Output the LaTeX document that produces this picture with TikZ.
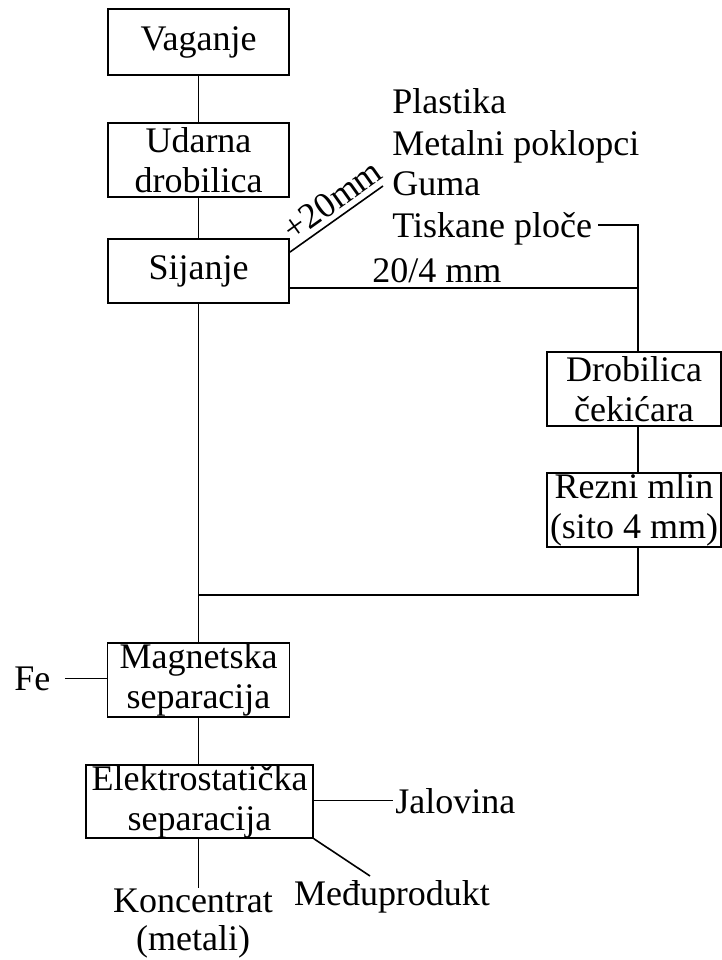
\documentclass[tikz,border=0pt]{standalone}
\usepackage{fontspec}
\setmainfont{Liberation Serif}
\begin{document}
\begin{tikzpicture}[x=0.5pt,y=-0.5pt,
  font=\fontsize{18}{20}\selectfont,
  box/.style={draw, line width=0.9pt, inner sep=0pt, align=center},
  lbl/.style={inner sep=0pt},
  conn/.style={line width=0.8pt}]
\useasboundingbox (0,0) rectangle (722,960);
% boxes
\node[box, minimum width=90.5pt, minimum height=33pt] (vag) at (198.5,42) {Vaganje};
\node[box, minimum width=90.5pt, minimum height=37pt] (udr) at (198.5,160) {Udarna\\drobilica};
\node[box, minimum width=90.5pt, minimum height=32pt] (sij) at (198.5,271) {Sijanje};
\node[box, minimum width=87pt, minimum height=37pt] (dro) at (634,389) {Drobilica\\čekićara};
\node[box, minimum width=87pt, minimum height=37pt] (rez) at (634,510) {Rezni mlin\\(sito 4 mm)};
\node[box, minimum width=91pt, minimum height=37pt] (mag) at (198.5,680) {Magnetska\\separacija};
\node[box, minimum width=113.5pt, minimum height=35.5pt] (ele) at (199.5,801.5) {Elektrostatička\\separacija};
% labels
\node[lbl, anchor=base west] (plast) at (392,113) {Plastika};
\node[lbl, anchor=base west] (metal) at (392,155) {Metalni poklopci};
\node[lbl, anchor=base west] (guma) at (392,195) {Guma};
\node[lbl, anchor=base west] (tisk) at (392,237) {Tiskane ploče};
\node[lbl, anchor=base west] (sieve) at (372,282) {20/4 mm};
\node[lbl, anchor=base west] (fe) at (14,690) {Fe};
\node[lbl, anchor=base west] (jal) at (395,813) {Jalovina};
\node[lbl, anchor=base] (medj) at (392,905) {Međuprodukt};
\node[lbl, anchor=base] (konc) at (193,912) {Koncentrat};
\node[lbl, anchor=base] (met) at (193,950) {(metali)};
\node[lbl, anchor=base, rotate=35.5] (plus) at (339,210) {+20mm};
% coordinates
\coordinate (j1) at (638,225);
\coordinate (j2) at (638,288);
\coordinate (j3) at (638,595);
\coordinate (p20) at (383,186);
\coordinate (mend) at (370,876);
% connectors
\draw[conn] (vag.south) -- (udr.north);
\draw[conn] (udr.south) -- (sij.north);
\draw[conn] (sij.south) -- (mag.north);
\draw[conn] ([yshift=-7pt]sij.north east) -- (p20);
\draw[conn] ([xshift=3pt]j1 -| tisk.east) -- (j1) -- (j1 |- dro.north);
\draw[conn] (sij.east |- j2) -- (j2);
\draw[conn] (dro.south -| j1) -- (rez.north -| j1);
\draw[conn] (rez.south -| j3) -- (j3) -- (j3 -| sij.south);
\draw[conn] ([xshift=7pt]fe.east) -- (fe.east -| mag.west);
\draw[conn] (mag.south) -- (mag.south |- ele.north);
\draw[conn] (ele.east |- jal.west) -- ([xshift=-1pt]jal.west);
\draw[conn] (ele.south east) -- (mend);
\draw[conn] (ele.south -| mag.south) -- (konc.north -| mag.south);
\end{tikzpicture}
\end{document}
